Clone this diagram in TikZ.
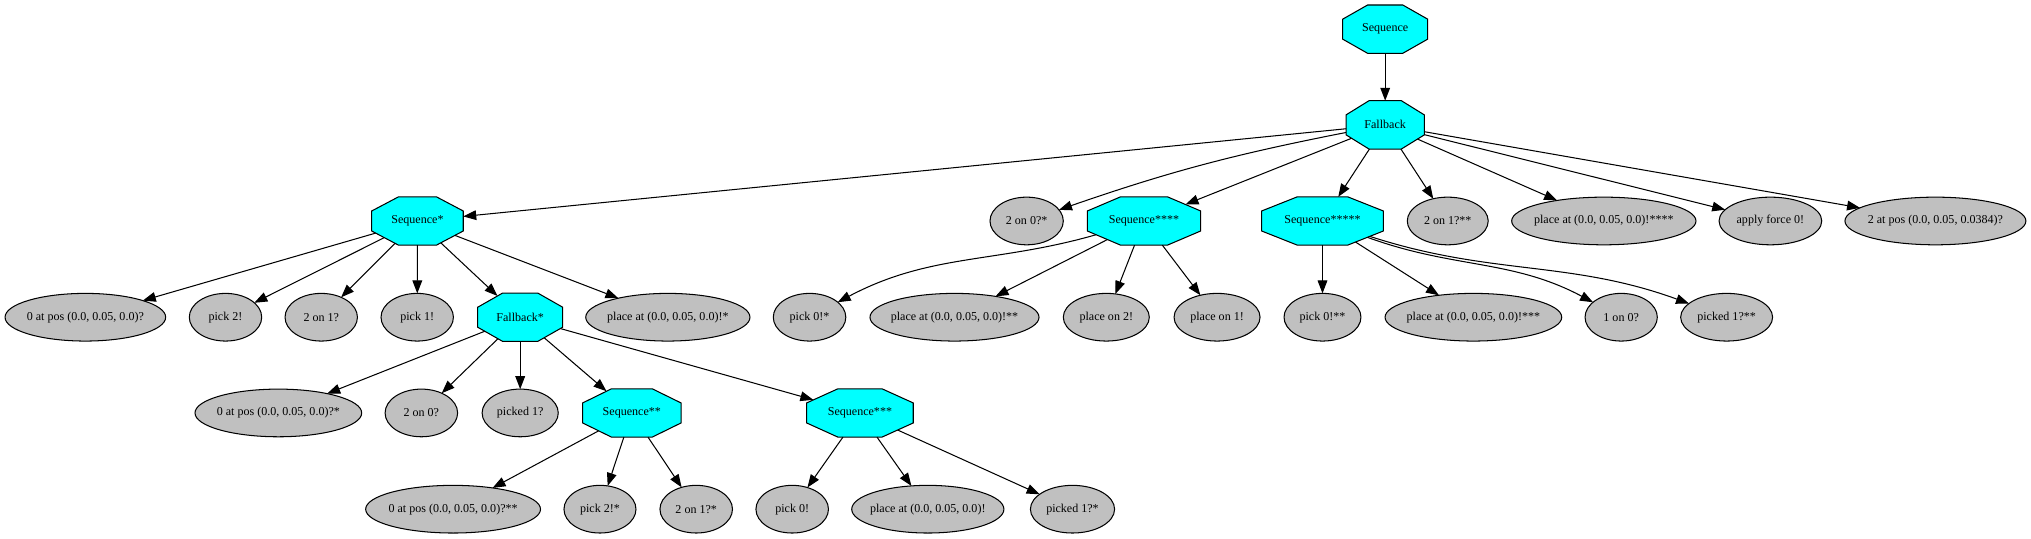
\documentclass[tikz,border=0pt]{standalone}
\usepackage{fontspec}
\setmainfont{Liberation Serif}
\usetikzlibrary{arrows.meta,shapes.geometric}

\definecolor{ctrlcyan}{RGB}{0,255,255}
\definecolor{leafgray}{RGB}{192,192,192}

% stretched octagon, as dot draws it (flat top, bottom and sides)
\makeatletter
\newdimen\octxa \newdimen\octxb \newdimen\octxc \newdimen\octxd
\newdimen\octya \newdimen\octyb \newdimen\octyc \newdimen\octyd
\newdimen\octhw \newdimen\octhh \newdimen\octmx \newdimen\octmy
\def\octcut{0.293}
\def\octcorners{%
  \northeast \octxd=\pgf@x \octyd=\pgf@y
  \southwest \octxa=\pgf@x \octya=\pgf@y
  \octxb=\octxd \advance\octxb by-\octxa
  \octxb=\octcut\octxb
  \octxc=\octxd \advance\octxc by-\octxb
  \advance\octxb by\octxa
  \octyb=\octyd \advance\octyb by-\octya
  \octyb=\octcut\octyb
  \octyc=\octyd \advance\octyc by-\octyb
  \advance\octyb by\octya
}
\pgfdeclareshape{octbox}{%
  \inheritsavedanchors[from=rectangle]
  \inheritanchor[from=rectangle]{center}
  \inheritanchor[from=rectangle]{north}
  \inheritanchor[from=rectangle]{south}
  \inheritanchor[from=rectangle]{east}
  \inheritanchor[from=rectangle]{west}
  \backgroundpath{%
    \octcorners
    \pgfpathmoveto{\pgfqpoint{\octxb}{\octya}}%
    \pgfpathlineto{\pgfqpoint{\octxc}{\octya}}%
    \pgfpathlineto{\pgfqpoint{\octxd}{\octyb}}%
    \pgfpathlineto{\pgfqpoint{\octxd}{\octyc}}%
    \pgfpathlineto{\pgfqpoint{\octxc}{\octyd}}%
    \pgfpathlineto{\pgfqpoint{\octxb}{\octyd}}%
    \pgfpathlineto{\pgfqpoint{\octxa}{\octyc}}%
    \pgfpathlineto{\pgfqpoint{\octxa}{\octyb}}%
    \pgfpathclose
  }%
  \anchorborder{%
    \edef\octdx{\the\pgf@x}\edef\octdy{\the\pgf@y}%
    \octcorners
    \octhw=\octxd \advance\octhw by-\octxa \octhw=0.5\octhw
    \octhh=\octyd \advance\octhh by-\octya \octhh=0.5\octhh
    \octmx=\octxa \advance\octmx by\octhw
    \octmy=\octya \advance\octmy by\octhh
    \pgfmathsetmacro\octk{max(abs(\octdx),abs(\octdy),0.01)}%
    \pgfmathsetmacro\octux{\octdx/\octk}%
    \pgfmathsetmacro\octuy{\octdy/\octk}%
    \pgfmathsetmacro\octm{max(abs(\octux)/\the\octhw,abs(\octuy)/\the\octhh,(abs(\octux)/\the\octhw+abs(\octuy)/\the\octhh)/(2-2*\octcut))}%
    \pgfmathsetmacro\octrx{\octux/\octm}%
    \pgfmathsetmacro\octry{\octuy/\octm}%
    \pgf@x=\octrx pt\relax \advance\pgf@x by\octmx
    \pgf@y=\octry pt\relax \advance\pgf@y by\octmy
  }%
}
\makeatother

\begin{document}
\begin{tikzpicture}[
  x=1pt, y=1pt,
  >={Triangle[length=10pt,width=7.5pt]},
  ctrl/.style={shape=octbox, draw, fill=ctrlcyan, line width=0.8pt, minimum height=37.3pt, inner sep=0pt, outer sep=0pt, font=\fontsize{9.3}{11}\selectfont},
  leaf/.style={ellipse, draw, fill=leafgray, line width=0.8pt, minimum height=36.8pt, inner xsep=-4pt, inner ysep=0pt, outer sep=0pt, font=\fontsize{9.3}{11}\selectfont},
  link/.style={->, line width=0.8pt}
]
\useasboundingbox (0,0) rectangle (1568,-416.1);
% top
\node[ctrl, minimum width=65.6pt] (root) at (1069.4,-22.5) {Sequence};
\node[ctrl, minimum width=60.4pt] (fb) at (1069.4,-96.4) {Fallback};
% row 2
\node[ctrl, minimum width=70.7pt] (seq1) at (322.3,-170.6) {Sequence*};
\node[leaf, minimum width=56.6pt] (on20b) at (792.6,-170.6) {2 on 0?*};
\node[ctrl, minimum width=87.5pt] (seq4) at (883.2,-170.6) {Sequence****};
\node[ctrl, minimum width=94pt] (seq5) at (1021,-170.6) {Sequence*****};
\node[leaf, minimum width=62.5pt] (on21c) at (1117.7,-170.6) {2 on 1?**};
\node[leaf, minimum width=142.3pt] (place4) at (1238.2,-170.6) {place at (0.0, 0.05, 0.0)!****};
\node[leaf, minimum width=79.3pt] (force0) at (1366.8,-170.6) {apply force 0!};
\node[leaf, minimum width=139.7pt] (at2) at (1494.2,-170.6) {2 at pos (0.0, 0.05, 0.0384)?};
% row 3
\node[leaf, minimum width=124pt] (at0) at (65.9,-244.9) {0 at pos (0.0, 0.05, 0.0)?};
\node[leaf, minimum width=55.9pt] (pick2) at (174.1,-244.9) {pick 2!};
\node[leaf, minimum width=55.9pt] (on21) at (248,-244.9) {2 on 1?};
\node[leaf, minimum width=55.9pt] (pick1) at (322.1,-244.9) {pick 1!};
\node[ctrl, minimum width=65.6pt] (fb1) at (401.6,-244.9) {Fallback*};
\node[leaf, minimum width=126.8pt] (place1) at (515.6,-244.9) {place at (0.0, 0.05, 0.0)!*};
\node[leaf, minimum width=56pt] (pick0b) at (625,-244.9) {pick 0!*};
\node[leaf, minimum width=130.5pt] (place2) at (736.9,-244.9) {place at (0.0, 0.05, 0.0)!**};
\node[leaf, minimum width=66.4pt] (placeon2) at (854.1,-244.9) {place on 2!};
\node[leaf, minimum width=66.4pt] (placeon1) at (939.6,-244.9) {place on 1!};
\node[leaf, minimum width=59.4pt] (pick0c) at (1021,-244.9) {pick 0!**};
\node[leaf, minimum width=136.4pt] (place3) at (1137.5,-244.9) {place at (0.0, 0.05, 0.0)!***};
\node[leaf, minimum width=55.8pt] (on10) at (1251.6,-244.9) {1 on 0?};
\node[leaf, minimum width=71pt] (picked1c) at (1333,-244.9) {picked 1?**};
% row 4
\node[leaf, minimum width=128.7pt] (at0b) at (214.9,-318.8) {0 at pos (0.0, 0.05, 0.0)?*};
\node[leaf, minimum width=56pt] (on20) at (325.3,-318.8) {2 on 0?};
\node[leaf, minimum width=58.8pt] (picked1) at (401.6,-318.8) {picked 1?};
\node[ctrl, minimum width=76pt] (seq2) at (487.8,-318.8) {Sequence**};
\node[ctrl, minimum width=82.3pt] (seq3) at (663.9,-318.8) {Sequence***};
% row 5
\node[leaf, minimum width=135pt] (at0c) at (349.8,-393.1) {0 at pos (0.0, 0.05, 0.0)?**};
\node[leaf, minimum width=55.6pt] (pick2b) at (463.2,-393.1) {pick 2!*};
\node[leaf, minimum width=56pt] (on21b) at (537.5,-393.1) {2 on 1?*};
\node[leaf, minimum width=56pt] (pick0) at (611.6,-393.1) {pick 0!};
\node[leaf, minimum width=117.5pt] (place0) at (716.3,-393.1) {place at (0.0, 0.05, 0.0)!};
\node[leaf, minimum width=65pt] (picked1b) at (828,-393.1) {picked 1?*};
% edges
\draw[link] (root) -- (fb);
\draw[link] (fb) -- (seq1);
\draw[link] (fb) to[bend right=4] (on20b);
\draw[link] (fb) -- (seq4);
\draw[link] (fb) -- (seq5);
\draw[link] (fb) -- (on21c);
\draw[link] (fb) -- (place4);
\draw[link] (fb) -- (force0);
\draw[link] (fb) -- (at2);
\draw[link] (seq1) -- (at0);
\draw[link] (seq1) -- (pick2);
\draw[link] (seq1) -- (on21);
\draw[link] (seq1) -- (pick1);
\draw[link] (seq1) -- (fb1);
\draw[link] (seq1) -- (place1);
\draw[link] (fb1) -- (at0b);
\draw[link] (fb1) -- (on20);
\draw[link] (fb1) -- (picked1);
\draw[link] (fb1) -- (seq2);
\draw[link] (fb1) -- (seq3);
\draw[link] (seq2) -- (at0c);
\draw[link] (seq2) -- (pick2b);
\draw[link] (seq2) -- (on21b);
\draw[link] (seq3) -- (pick0);
\draw[link] (seq3) -- (place0);
\draw[link] (seq3) -- (picked1b);
\draw[link] (seq4) to[out=196,in=28] (pick0b);
\draw[link] (seq4) -- (place2);
\draw[link] (seq4) -- (placeon2);
\draw[link] (seq4) -- (placeon1);
\draw[link] (seq5) -- (pick0c);
\draw[link] (seq5) -- (place3);
\draw[link] (seq5) to[out=-20,in=152] (on10);
\draw[link] (seq5) to[out=-18,in=160] (picked1c);
\end{tikzpicture}
\end{document}
